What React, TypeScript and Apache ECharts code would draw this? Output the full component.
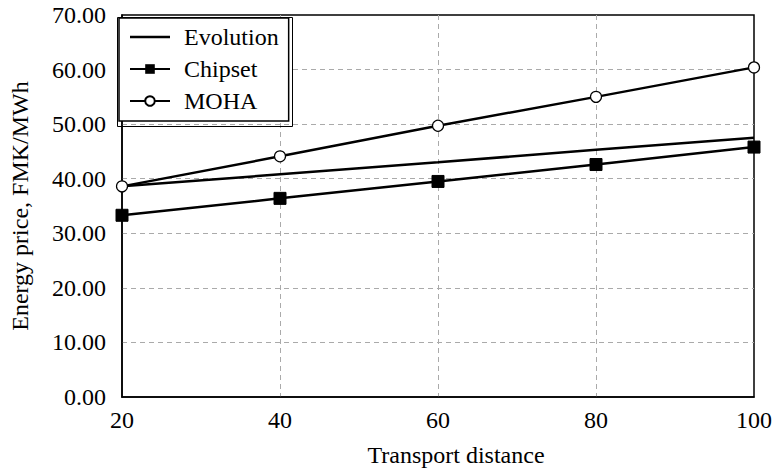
import React, { useEffect, useRef } from "react";
import * as echarts from "echarts";

const distances = [20, 40, 60, 80, 100];
const evolution = [38.6, 40.8, 43.0, 45.3, 47.5];
const chipset = [33.3, 36.4, 39.5, 42.6, 45.8];
const moha = [38.6, 44.1, 49.7, 55.0, 60.4];

const FONT = "Liberation Serif";
const FS = 24;

export default function App() {
  const ref = useRef<HTMLDivElement>(null);
  useEffect(() => {
    if (!ref.current) return;
    const chart = echarts.init(ref.current, null, { renderer: "svg" });
    const pair = (arr: number[]) => distances.map((d, i) => [d, arr[i]]);
    chart.setOption({
      animation: false,
      textStyle: { fontFamily: FONT },
      grid: {
        left: 115,
        right: 19,
        top: 15,
        bottom: 71,
        show: true,
        borderColor: "#000",
        borderWidth: 1.5,
      },
      xAxis: {
        type: "value",
        min: 20,
        max: 100,
        interval: 20,
        name: "Transport distance",
        nameLocation: "middle",
        nameGap: 46,
        nameTextStyle: { fontFamily: FONT, fontSize: FS, color: "#000", padding: [0, 0, 0, 36] },
        axisLine: { lineStyle: { color: "#000", width: 1.5 } },
        axisTick: { show: false },
        axisLabel: { fontFamily: FONT, fontSize: FS, color: "#000", margin: 11 },
        splitLine: {
          show: true,
          showMinLine: false,
          showMaxLine: false,
          lineStyle: { color: "#aaa", type: [5, 4], width: 1 },
        },
      },
      yAxis: {
        type: "value",
        min: 0,
        max: 70,
        interval: 10,
        name: "Energy price, FMK/MWh",
        nameLocation: "middle",
        nameGap: 90,
        nameTextStyle: { fontFamily: FONT, fontSize: FS, color: "#000" },
        axisLine: { show: true, lineStyle: { color: "#000", width: 1.5 } },
        axisTick: { show: false },
        axisLabel: {
          fontFamily: FONT,
          fontSize: FS,
          color: "#000",
          margin: 16,
          formatter: (v: number) => v.toFixed(2),
        },
        splitLine: {
          show: true,
          showMinLine: false,
          showMaxLine: false,
          lineStyle: { color: "#aaa", type: [5, 4], width: 1 },
        },
      },
      legend: {
        orient: "vertical",
        left: 119,
        top: 18,
        padding: [7, 10, 8, 10],
        itemGap: 8,
        itemWidth: 40,
        itemHeight: 12,
        backgroundColor: "#fff",
        borderColor: "#000",
        borderWidth: 1.5,
        borderRadius: 0,
        textStyle: { fontFamily: FONT, fontSize: FS, color: "#000", padding: [0, 0, 0, 9] },
        data: [
          { name: "Evolution", icon: "path://M0 0 H40 V2.6 H0 Z" },
          "Chipset",
          "MOHA",
        ],
      },
      graphic: [
        {
          type: "rect",
          left: 115,
          top: 15,
          shape: { width: 175, height: 109 },
          style: { fill: "none", stroke: "#000", lineWidth: 1 },
          z: 100,
        },
      ],
      series: [
        {
          name: "Evolution",
          type: "line",
          data: pair(evolution),
          symbol: "none",
          lineStyle: { color: "#000", width: 2.5 },
          itemStyle: { color: "#000" },
        },
        {
          name: "Chipset",
          type: "line",
          data: pair(chipset),
          symbol: "rect",
          symbolSize: 12,
          lineStyle: { color: "#000", width: 2.5 },
          itemStyle: { color: "#000", borderColor: "#000" },
        },
        {
          name: "MOHA",
          type: "line",
          data: pair(moha),
          symbol: "circle",
          symbolSize: 11,
          lineStyle: { color: "#000", width: 2.5 },
          itemStyle: { color: "#fff", borderColor: "#000", borderWidth: 1.2 },
        },
      ],
    });
    return () => chart.dispose();
  }, []);
  return (
    <div
      ref={ref}
      style={{ position: "fixed", left: 0, top: 0, width: 775, height: 472, background: "#fff" }}
    />
  );
}
